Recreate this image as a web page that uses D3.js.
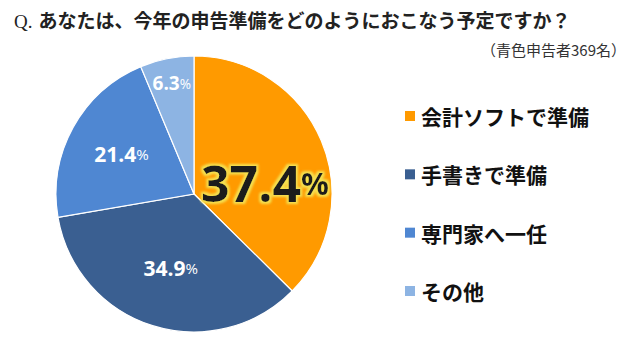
<!DOCTYPE html>
<html><head><meta charset="utf-8">
<script src="https://cdn.jsdelivr.net/npm/d3@7"></script>
<style>body{margin:0;background:#fff;}svg{display:block;}</style>
</head><body>
<script>
const categories = ["会計ソフトで準備", "手書きで準備", "専門家へ一任", "その他"];
const values = [37.4, 34.9, 21.4, 6.3];
const colors = ["#FF9A00", "#3A5F91", "#4F87D2", "#8DB4E3"];

const W = 640, H = 355;
const svg = d3.select("body").append("svg").attr("width", W).attr("height", H);
const jp = "'Noto Sans CJK JP', sans-serif";

const defs = svg.append("defs");
const f = defs.append("filter").attr("id","glow").attr("x","-20%").attr("y","-20%").attr("width","140%").attr("height","140%");
f.append("feMorphology").attr("in","SourceAlpha").attr("operator","dilate").attr("radius",1.5).attr("result","d");
f.append("feGaussianBlur").attr("in","d").attr("stdDeviation",1.2).attr("result","b");
f.append("feFlood").attr("flood-color","#F5E050").attr("result","c");
f.append("feComposite").attr("in","c").attr("in2","b").attr("operator","in").attr("result","g");
const m = f.append("feMerge"); m.append("feMergeNode").attr("in","g"); m.append("feMergeNode").attr("in","SourceGraphic");

// Title
const t = svg.append("text").attr("x", 14).attr("y", 28).attr("font-size", 19).attr("fill", "#222");
t.append("tspan").attr("font-family", "'Liberation Serif', serif").text("Q.");
t.append("tspan").attr("dx", 6).attr("font-family", jp).attr("font-weight", "bold").text("あなたは、今年の申告準備をどのようにおこなう予定ですか？");
svg.append("text").attr("x", 626).attr("y", 56).attr("text-anchor", "end")
  .attr("font-family", jp).attr("font-size", 15).attr("fill", "#333").text("（青色申告者369名）");

const cx = 194, cy = 194, R = 138;
const pie = d3.pie().sort(null).value(d => d)(values);
const arc = d3.arc().innerRadius(0).outerRadius(R);
const g = svg.append("g").attr("transform", `translate(${cx},${cy})`);
g.selectAll("path").data(pie).join("path")
  .attr("d", arc).attr("fill", (d, i) => colors[i])
  .attr("stroke", "#fff").attr("stroke-width", 1.2);

// Labels
const labelR = [0.52, 0.56, 0.60, 0.82];
const labelShift = [14, 0, 0, 0]; // degrees
const sizes = [50, 21, 21, 19];
pie.forEach((d, i) => {
  const a = (d.startAngle + d.endAngle) / 2 + labelShift[i] * Math.PI / 180;
  const r = R * labelR[i];
  let x = Math.sin(a) * r, y = -Math.cos(a) * r;
  const tx = g.append("text").attr("x", x).attr("y", y).attr("text-anchor", "middle")
    .attr("dominant-baseline", "central")
    .attr("font-family", "'Open Sans', 'DejaVu Sans', sans-serif").attr("font-weight", "bold")
    .attr("font-size", sizes[i]).attr("fill", i === 0 ? "#1a1a1a" : "#fff");
  if (i === 0) tx.attr("filter", "url(#glow)");
  tx.append("tspan").text(values[i].toFixed(1));
  tx.append("tspan").attr("font-size", sizes[i] * (i === 0 ? 0.62 : 0.72)).attr("font-weight", i===0?"bold":"normal").text("%");
});

// Legend
const ly = d3.scalePoint().domain(categories).range([116, 291]);
const lg = svg.append("g");
categories.forEach((c, i) => {
  lg.append("rect").attr("x", 405).attr("y", ly(c) - 5).attr("width", 10).attr("height", 10).attr("fill", colors[i]);
  lg.append("text").attr("x", 421).attr("y", ly(c)).attr("dominant-baseline", "central")
    .attr("font-family", jp).attr("font-weight", "bold").attr("font-size", 21).attr("fill", "#111").text(c);
});
</script>
</body></html>
